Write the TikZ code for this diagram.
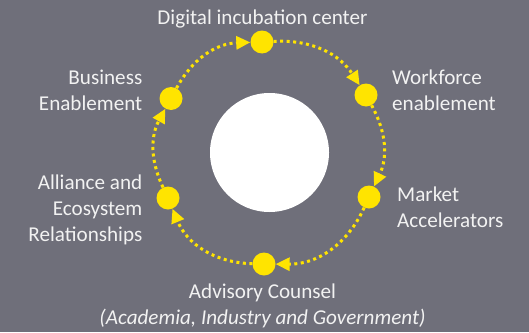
\documentclass[tikz,border=0pt]{standalone}
\usepackage{fontspec}
\setmainfont{Carlito}
\usetikzlibrary{arrows.meta}
\definecolor{bg}{RGB}{111,111,122}
\definecolor{yel}{RGB}{255,228,0}
\definecolor{txt}{RGB}{242,242,242}
\begin{document}
\begin{tikzpicture}[x=1bp,y=1bp,
  dot/.style={circle,fill=yel,minimum size=23bp,inner sep=0pt},
  flow/.style={yel,line width=3bp,dash pattern=on 3bp off 3.5bp,-{Triangle[length=14bp,width=13bp]}},
  lbl/.style={text=txt,font=\fontsize{21.2}{26}\selectfont,inner sep=0pt}]
\useasboundingbox (0,0) rectangle (529,332);
\fill[bg] (0,0) rectangle (529,332);
\fill[white] (269.5,179.5) circle (59.5);
\node[dot] (t) at (262,290) {};
\node[dot] (rt) at (366,237) {};
\node[dot] (rb) at (369,135) {};
\node[dot] (b) at (264,68) {};
\node[dot] (lb) at (168,134) {};
\node[dot] (lt) at (171,233.5) {};
\draw[flow] (lt) to[bend left=30] (t);
\draw[flow] (t) to[bend left=30] (rt);
\draw[flow] (rt) to[bend left=27] (rb);
\draw[flow] (rb) to[bend left=33] (b);
\draw[flow] (b) to[bend left=33] (lb);
\draw[flow] (lb) to[bend left=27] (lt);
\node[lbl,anchor=base] (ttl) at (262.5,308) {Digital incubation center};
\node[lbl,align=right,anchor=base east] (be) at (142.5,222) {Business\\Enablement};
\node[lbl,align=right,anchor=base east] (al) at (142.5,91) {Alliance and\\Ecosystem\\Relationships};
\node[lbl,align=left,anchor=base west] (wf) at (392,222) {Workforce\\enablement};
\node[lbl,align=left,anchor=base west] (ma) at (397,105) {Market\\Accelerators};
\node[lbl,align=center,anchor=base] (ad) at (262.5,8) {Advisory Counsel\\\textit{(Academia, Industry and Government)}};
\end{tikzpicture}
\end{document}
